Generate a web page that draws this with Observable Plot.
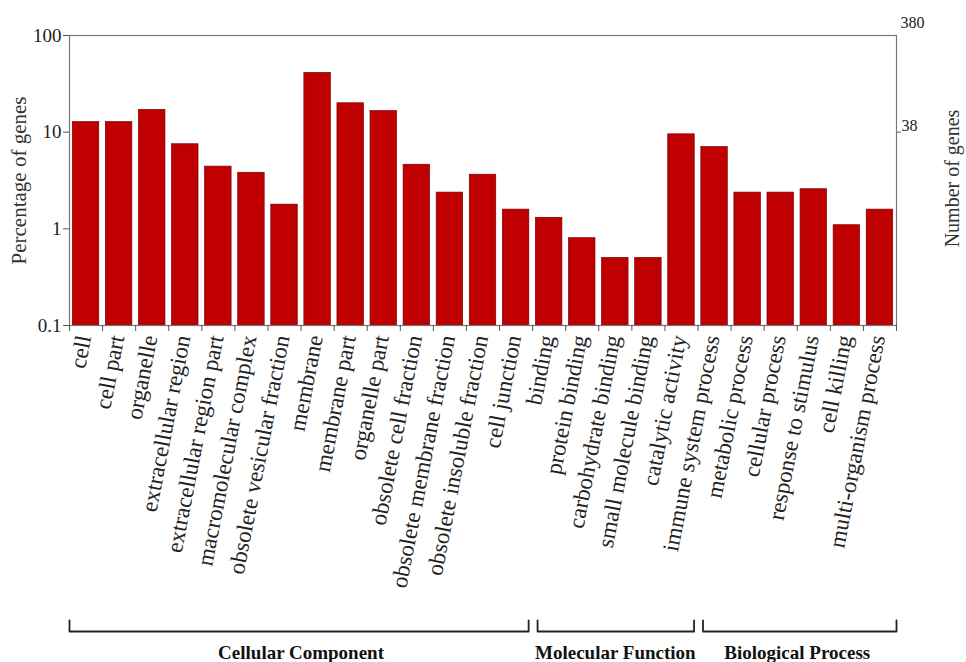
<!DOCTYPE html>
<html>
<head>
<meta charset="utf-8">
<script src="https://cdn.jsdelivr.net/npm/d3@7"></script>
<script src="https://cdn.jsdelivr.net/npm/@observablehq/plot@0.6"></script>
<style>
  html, body { margin: 0; padding: 0; background: #fff; }
  svg { display: block; }
</style>
</head>
<body>
<script>
const categories = [
  "cell", "cell part", "organelle", "extracellular region", "extracellular region part",
  "macromolecular complex", "obsolete vesicular fraction", "membrane", "membrane part",
  "organelle part", "obsolete cell fraction", "obsolete membrane fraction",
  "obsolete insoluble fraction", "cell junction",
  "binding", "protein binding", "carbohydrate binding", "small molecule binding", "catalytic activity",
  "immune system process", "metabolic process", "cellular process", "response to stimulus",
  "cell killing", "multi-organism process"
];
const percents = [
  12.7, 12.7, 17.0, 7.5, 4.4, 3.8, 1.78, 41.0, 19.9, 16.5, 4.6, 2.37, 3.63, 1.58,
  1.3, 0.80, 0.50, 0.50, 9.5,
  7.0, 2.37, 2.37, 2.57, 1.09, 1.58
];
const groupNames = ["Cellular Component", "Molecular Function", "Biological Process"];
const groupSizes = [14, 5, 6];
const leftTicks = [0.1, 1, 10, 100];
const rightTickValues = [100, 10];
const rightTickLabels = ["380", "38"];
const leftTitle = "Percentage of genes";
const rightTitle = "Number of genes";

const data = categories.map((name, i) => ({i, name, pct: percents[i]}));
const n = categories.length;

// group extents built from sizes
let acc = 0;
const groups = groupNames.map((g, k) => {
  const start = acc; acc += groupSizes[k];
  return {name: g, start, end: acc};
});
const bracketPts = [];
groups.forEach(g => {
  const a = g.start + (g.start === 0 ? 0 : 0.15);
  const b = g.end - (g.end === n ? 0 : 0.12);
  bracketPts.push({g: g.name, x: a, y: 1}, {g: g.name, x: a, y: 0}, {g: g.name, x: b, y: 0}, {g: g.name, x: b, y: 1});
});

const font = "'Liberation Serif', 'Times New Roman', serif";

const main = Plot.plot({
  width: 966, height: 600,
  marginTop: 35, marginLeft: 69, marginRight: 70, marginBottom: 275,
  style: {fontFamily: font, fontSize: "19px", color: "#222", background: "#fff", overflow: "visible"},
  x: {type: "linear", domain: [0, n], label: null},
  y: {type: "log", domain: [0.1, 100], label: null},
  marks: [
    Plot.rect(data, {x1: d => d.i + 0.1, x2: d => d.i + 0.9, y1: () => 0.1, y2: "pct",
      fill: "#c00000", stroke: "#7a0000", strokeWidth: 0.7}),
    Plot.frame({stroke: "#777", strokeWidth: 1.2}),
    Plot.axisX({ticks: d3.range(0, n + 1), tickSize: 6, tickFormat: () => "", stroke: "#555", label: null}),
    Plot.axisY({anchor: "left", ticks: leftTicks, tickSize: 6, tickPadding: 2, tickFormat: d => String(d),
      stroke: "#555", fontSize: 19, label: null}),
    Plot.axisY({anchor: "right", ticks: [rightTickValues[1]], tickSize: 4, tickFormat: () => "", stroke: "#555", label: null}),
    Plot.text([rightTickLabels[0]], {x: () => n, y: () => rightTickValues[0], text: d => d,
      textAnchor: "start", dx: 4, dy: -13, fontSize: 16}),
    Plot.text([rightTickLabels[1]], {x: () => n, y: () => rightTickValues[1], text: d => d,
      textAnchor: "start", dx: 5, dy: -6, fontSize: 16}),
    Plot.text([leftTitle], {frameAnchor: "left", textAnchor: "middle", rotate: -90, dx: -50, fontSize: 21, fill: "#333"}),
    Plot.text([rightTitle], {frameAnchor: "right", textAnchor: "middle", rotate: -90, dx: 56, dy: -2, fontSize: 20, fill: "#333"}),
    Plot.text(data, {x: d => d.i + 0.5, y: () => 0.1, text: "name", rotate: -79, textAnchor: "end",
      dx: -2, dy: 10, fontSize: 23, fill: "#222"})
  ]
});

const brackets = Plot.plot({
  width: 966, height: 62,
  marginTop: 20, marginLeft: 69, marginRight: 70, marginBottom: 31,
  style: {fontFamily: font, background: "#fff", color: "#111", overflow: "visible"},
  x: {type: "linear", domain: [0, n], axis: null},
  y: {type: "linear", domain: [0, 1], axis: null},
  marks: [
    Plot.line(bracketPts, {x: "x", y: "y", z: "g", stroke: "#222", strokeWidth: 1.8}),
    Plot.text(groups, {x: d => (d.start + d.end) / 2, y: () => 0, text: "name", dy: 21,
      fontSize: 19, fontWeight: "bold", fill: "#111"})
  ]
});

document.body.appendChild(main);
document.body.appendChild(brackets);
</script>
</body>
</html>
